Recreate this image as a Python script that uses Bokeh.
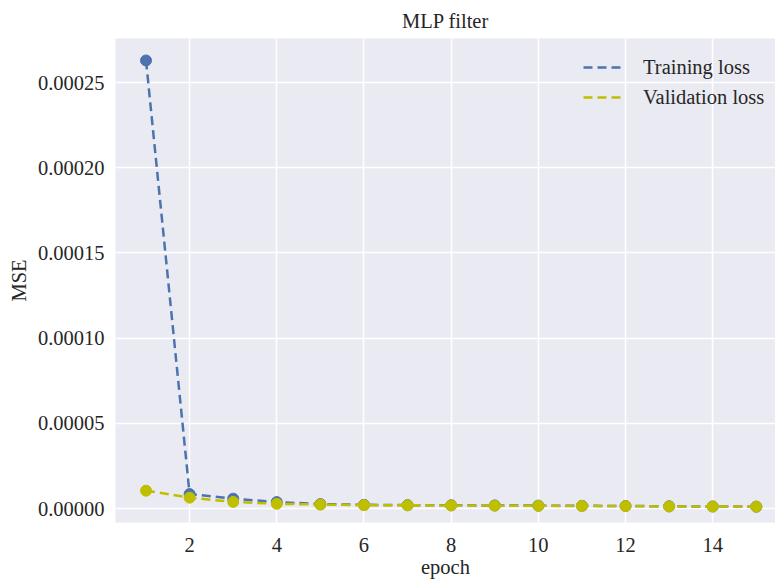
from bokeh.plotting import figure
from bokeh.models import Range1d, FixedTicker, PrintfTickFormatter, Legend, LegendItem
from bokeh.embed import file_html
from bokeh.resources import INLINE

epochs = list(range(1, 16))
train_loss = [2.63e-4, 8.5e-6, 5.8e-6, 3.8e-6, 2.6e-6, 2.2e-6, 2.0e-6, 1.9e-6,
              1.8e-6, 1.7e-6, 1.6e-6, 1.5e-6, 1.3e-6, 1.2e-6, 1.1e-6]
val_loss = [1.05e-5, 6.4e-6, 3.9e-6, 2.8e-6, 2.3e-6, 2.0e-6, 1.9e-6, 1.8e-6,
            1.7e-6, 1.6e-6, 1.5e-6, 1.4e-6, 1.2e-6, 1.2e-6, 1.1e-6]
x_ticks = [2, 4, 6, 8, 10, 12, 14]
y_ticks = [0.0, 0.00005, 0.0001, 0.00015, 0.0002, 0.00025]

BLUE = "#4C72B0"
YELLOW = "#BFBF00"
TEXT = "#262626"
FONT = "Liberation Serif"
FS = "20.5px"

p = figure(width=775, height=580, output_backend="svg", toolbar_location=None,
           x_range=Range1d(0.3, 15.44), y_range=Range1d(-0.82e-5, 2.759e-4),
           title="MLP filter",
           min_border_left=115, min_border_right=0, min_border_top=38, min_border_bottom=56)

p.background_fill_color = "#EAEAF2"
p.border_fill_color = "white"
p.outline_line_color = None

p.title.text_font = FONT
p.title.text_font_size = FS
p.title.text_font_style = "normal"
p.title.text_color = TEXT
p.title.align = "center"
p.title.offset = 5
p.title.padding = 7
p.title.standoff = 0

p.xaxis.ticker = FixedTicker(ticks=x_ticks)
p.yaxis.ticker = FixedTicker(ticks=y_ticks)
p.yaxis.formatter = PrintfTickFormatter(format="%.5f")
p.xaxis.axis_label = "epoch"
p.yaxis.axis_label = "MSE"

for ax in (p.xaxis, p.yaxis):
    ax.axis_line_color = None
    ax.major_tick_line_color = None
    ax.minor_tick_line_color = None
    ax.major_tick_out = 0
    ax.major_tick_in = 0
    ax.major_label_text_font = FONT
    ax.major_label_text_font_size = FS
    ax.major_label_text_color = TEXT
    ax.axis_label_text_font = FONT
    ax.axis_label_text_font_size = FS
    ax.axis_label_text_font_style = "normal"
    ax.axis_label_text_color = TEXT
p.xaxis.major_label_standoff = 15
p.xaxis.axis_label_standoff = 1
p.yaxis.major_label_standoff = 11
p.yaxis.axis_label_standoff = 5

p.xgrid.grid_line_color = "white"
p.ygrid.grid_line_color = "white"
p.xgrid.grid_line_width = 1.5
p.ygrid.grid_line_width = 1.5

l1 = p.line(epochs, train_loss, line_color=BLUE, line_width=2.5, line_dash="9 5")
p.scatter(epochs, train_loss, size=11, fill_color=BLUE, line_color=BLUE)
l2 = p.line(epochs, val_loss, line_color=YELLOW, line_width=2.5, line_dash="9 5")
p.scatter(epochs, val_loss, size=11, fill_color=YELLOW, line_color=YELLOW)

legend = Legend(items=[LegendItem(label="Training loss", renderers=[l1]),
                       LegendItem(label="Validation loss", renderers=[l2])],
                location=(468, 413))
legend.background_fill_alpha = 0
legend.border_line_alpha = 0
legend.label_text_font = FONT
legend.label_text_font_size = FS
legend.label_text_color = TEXT
legend.glyph_width = 40
legend.glyph_height = 24
legend.label_height = 24
legend.label_standoff = 20
legend.spacing = 6
legend.margin = 0
legend.padding = 0
p.add_layout(legend)

open("out.html", "w").write(file_html(p, INLINE))
